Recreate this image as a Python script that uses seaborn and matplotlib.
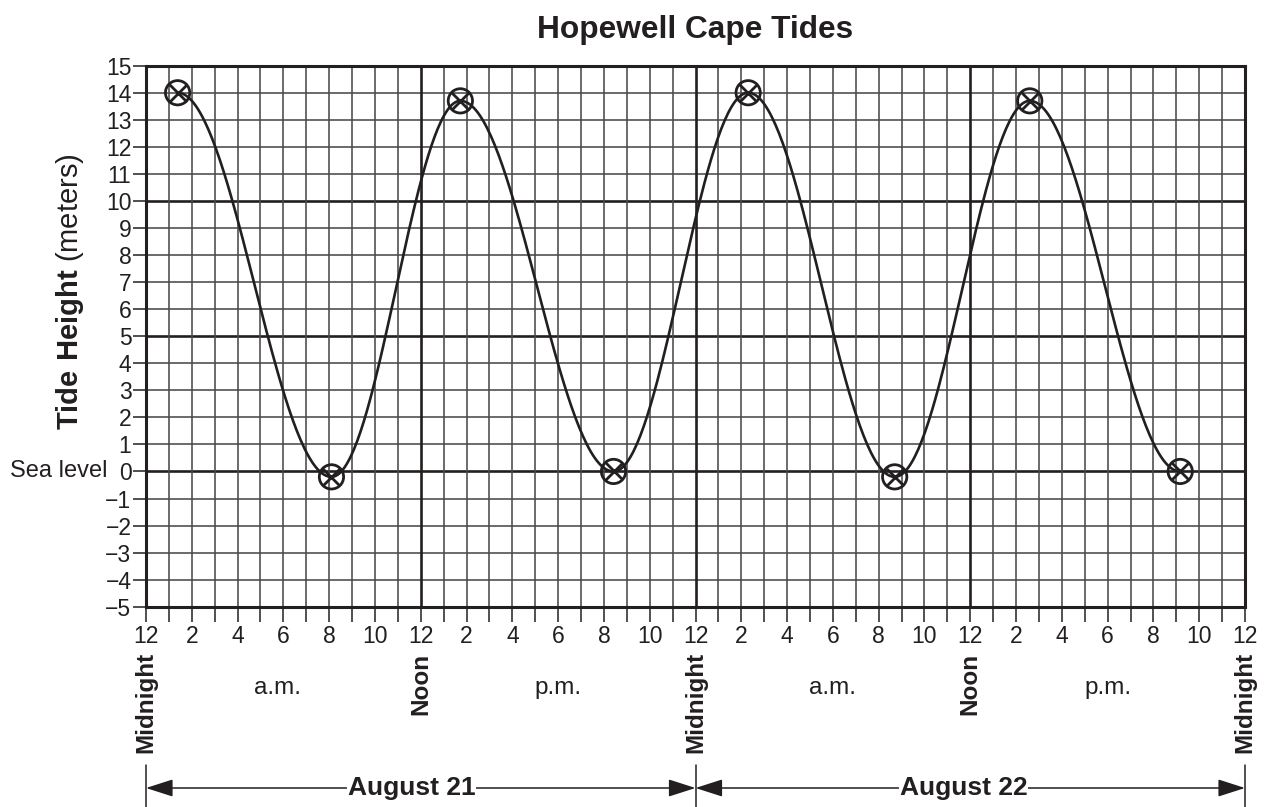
import numpy as np
import pandas as pd
import matplotlib
matplotlib.use("Agg")
import matplotlib.pyplot as plt
import matplotlib.transforms as mtransforms
import seaborn as sns

# ---------------- data ----------------
tide_hours = [1.38, 8.1, 13.73, 20.42, 26.3, 32.7, 38.6, 45.17]
tide_heights = [14.0, -0.2, 13.7, 0.0, 14.0, -0.2, 13.7, 0.0]

hour_ticks = list(range(0, 49))
hour_labels = ["12", "2", "4", "6", "8", "10"] * 4 + ["12"]
height_ticks = list(range(-5, 16))
height_labels = [("\u2212%d" % abs(v)) if v < 0 else str(v) for v in height_ticks]

midnight_pos = [0, 24, 48]
noon_pos = [12, 36]
ampm_pos = [5.75, 18, 30, 42]
ampm_text = ["a.m.", "p.m.", "a.m.", "p.m."]
day_pos = [11.6, 35.7]
day_text = ["August 21", "August 22"]
day_bounds = [(0, 24), (24, 48)]

INK = "#231f20"
GRID = "#4a4a4a"

# smooth tide curve between consecutive extremes (half-cosine shape)
def tide_curve(hours, heights, n=80):
    xs, ys = [], []
    for i in range(len(hours) - 1):
        t0, t1 = hours[i], hours[i + 1]
        h0, h1 = heights[i], heights[i + 1]
        tt = np.linspace(t0, t1, n, endpoint=(i == len(hours) - 2))
        f = (tt - t0) / (t1 - t0)
        hh = (h0 + h1) / 2 + (h0 - h1) / 2 * np.cos(np.pi * f)
        xs.append(tt)
        ys.append(hh)
    return np.concatenate(xs), np.concatenate(ys)

cx, cy = tide_curve(tide_hours, tide_heights)
curve_df = pd.DataFrame({"hour": cx, "height": cy})
pts_df = pd.DataFrame({"hour": tide_hours, "height": tide_heights})

# ---------------- style ----------------
sns.set_theme(style="white")
plt.rcParams["font.family"] = ["Liberation Sans", "DejaVu Sans"]
plt.rcParams["mathtext.fontset"] = "custom"
plt.rcParams["mathtext.rm"] = "Liberation Sans"
plt.rcParams["mathtext.bf"] = "Liberation Sans:bold"

W, H = 1274, 807
fig = plt.figure(figsize=(W / 100, H / 100), dpi=100)
L, R, T, B = 146 / W, 1245 / W, 1 - 65.7 / H, 1 - 606.7 / H
ax = fig.add_axes([L, B, R - L, T - B])

# grid
for v in height_ticks:
    major = v % 5 == 0
    ax.axhline(v, color=INK if major else GRID, lw=1.9 if major else 1.15, zorder=1)
for h in hour_ticks:
    major = h % 12 == 0
    ax.axvline(h, color=INK if major else GRID, lw=1.9 if major else 1.15, zorder=1)

sns.lineplot(data=curve_df, x="hour", y="height", ax=ax, color=INK, lw=1.9,
             sort=False, estimator=None, zorder=3)
sns.scatterplot(data=pts_df, x="hour", y="height", ax=ax, marker="o", s=17.5 ** 2,
                facecolor="none", edgecolor=INK, linewidth=2.0, zorder=4)
sns.scatterplot(data=pts_df, x="hour", y="height", ax=ax, marker="x", s=12.5 ** 2,
                color=INK, linewidth=2.0, zorder=4)

ax.set_xlim(0, 48)
ax.set_ylim(-5, 15)
ax.set_xlabel("")
ax.set_ylabel("")
ax.set_xticks(hour_ticks)
ax.set_xticklabels([hour_labels[i // 2] if i % 2 == 0 else "" for i in hour_ticks])
ax.set_yticks(height_ticks)
ax.set_yticklabels(height_labels)
ax.tick_params(axis="x", direction="out", length=10.5, width=1.1, color=INK,
               labelsize=16.5, pad=2.5, labelcolor=INK, bottom=True)
ax.tick_params(axis="y", direction="out", length=9.5, width=1.1, color=INK,
               labelsize=16.5, pad=1, labelcolor=INK, left=True)
for s in ax.spines.values():
    s.set_color(INK)
    s.set_linewidth(2.2)
    s.set_zorder(5)

# title and y label
fig.text(695.5 / W, 1 - 30 / H, "Hopewell Cape Tides", ha="center", va="center",
         fontsize=22.8, fontweight="bold", color=INK)
fig.text(70 / W, 1 - 292 / H, r"$\mathbf{Tide\ Height}$ (meters)", rotation=90,
         ha="center", va="center", fontsize=21, color=INK)

tf_fig_y = mtransforms.blended_transform_factory(ax.transData, fig.transFigure)
tf_fig_x = mtransforms.blended_transform_factory(fig.transFigure, ax.transData)

ax.text(107 / W, 0, "Sea level", transform=tf_fig_x, ha="right", va="center",
        fontsize=17, color=INK)

for x in midnight_pos:
    ax.text(x, 1 - 652 / H, "Midnight", transform=tf_fig_y, rotation=90,
            ha="center", va="top", fontsize=17.5, fontweight="bold", color=INK)
for x in noon_pos:
    ax.text(x, 1 - 653 / H, "Noon", transform=tf_fig_y, rotation=90,
            ha="center", va="top", fontsize=17.5, fontweight="bold", color=INK)
for x, t in zip(ampm_pos, ampm_text):
    ax.text(x, 1 - 688 / H, t, transform=tf_fig_y, ha="center", va="center",
            fontsize=17.5, color=INK)

arrow_y = 1 - 788 / H
for x in midnight_pos:
    ax.plot([x, x], [1 - 765 / H, 0.0], transform=tf_fig_y, color=INK, lw=1.1,
            clip_on=False)
for (a, b), xc, t in zip(day_bounds, day_pos, day_text):
    for end in (a, b):
        ax.annotate("", xy=(end, arrow_y), xytext=(xc, arrow_y), xycoords=tf_fig_y,
                    textcoords=tf_fig_y,
                    arrowprops=dict(arrowstyle="-|>,head_length=1.4,head_width=0.45",
                                    color=INK, lw=1.1, shrinkA=0, shrinkB=0),
                    annotation_clip=False)
    ax.text(xc, arrow_y, t, transform=tf_fig_y, ha="center", va="center",
            fontsize=19, fontweight="bold", color=INK, zorder=10,
            bbox=dict(facecolor="white", edgecolor="none", pad=0.5))

fig.savefig("out.png", dpi=100)
